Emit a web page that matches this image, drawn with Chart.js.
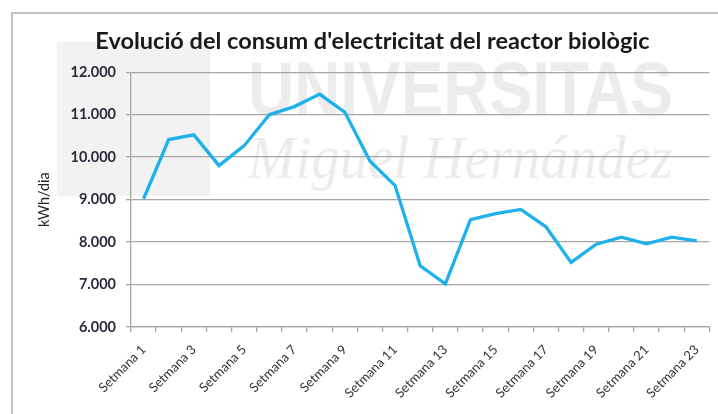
<!DOCTYPE html>
<html><head><meta charset="utf-8">
<script src="https://cdn.jsdelivr.net/npm/chart.js@4.4.1/dist/chart.umd.min.js"></script>
<style>html,body{margin:0;padding:0;background:#fff;overflow:hidden}</style>
</head><body>
<canvas id="c" width="718" height="414" style="display:block;width:718px;height:414px"></canvas>
<script>
const categories = ["Setmana 1","Setmana 2","Setmana 3","Setmana 4","Setmana 5","Setmana 6","Setmana 7","Setmana 8","Setmana 9","Setmana 10","Setmana 11","Setmana 12","Setmana 13","Setmana 14","Setmana 15","Setmana 16","Setmana 17","Setmana 18","Setmana 19","Setmana 20","Setmana 21","Setmana 22","Setmana 23"];
const consum = [9020,10415,10525,9800,10270,11000,11190,11485,11060,9910,9330,7440,7015,8530,8670,8770,8360,7520,7950,8115,7960,8115,8030];
const yMin = 6000, yMax = 12000, yStep = 1000;
const titleText = "Evolució del consum d'electricitat del reactor biològic";
const yTitle = "kWh/dia";
const watermark1 = "UNIVERSITAS";
const watermark2 = "Miguel Hernández";

function fmt(v){ return String(v).replace(/\B(?=(\d{3})+(?!\d))/g,'.'); }

const backdrop = {
  id:'backdrop',
  beforeDraw(chart){
    const ctx = chart.ctx;
    ctx.save();
    ctx.fillStyle='#fff'; ctx.fillRect(0,0,chart.width,chart.height);
    ctx.fillStyle='#f2f2f2';
    ctx.fillRect(57,42,153,154);
    ctx.fillStyle='#ececec';
    ctx.font='bold 76px "Liberation Sans"';
    ctx.textBaseline='alphabetic';
    let w = ctx.measureText(watermark1).width;
    ctx.save(); ctx.translate(248,115); ctx.scale(425/w,1); ctx.fillText(watermark1,0,0); ctx.restore();
    ctx.font='italic 62px "Liberation Serif"';
    w = ctx.measureText(watermark2).width;
    ctx.save(); ctx.translate(248,178); ctx.scale(425/w,1); ctx.fillText(watermark2,0,0); ctx.restore();
    ctx.strokeStyle='#c4c4c4'; ctx.lineWidth=2;
    ctx.strokeRect(12,13,760,460);
    ctx.restore();
  }
};

new Chart(document.getElementById('c'),{
  type:'line',
  data:{labels:categories,datasets:[{data:consum,borderColor:'#1fb1ea',borderWidth:3.3,pointRadius:0,tension:0,fill:false}]},
  plugins:[backdrop],
  options:{
    responsive:false,animation:false,devicePixelRatio:1,
    layout:{padding:{left:34,right:7,top:0,bottom:0}},
    plugins:{
      legend:{display:false},tooltip:{enabled:false},
      title:{display:true,text:titleText,color:'#1a1a1a',font:{family:'Lato',size:23.5,weight:'bold'},padding:{top:27,bottom:17}}
    },
    scales:{
      x:{
        offset:true,
        grid:{offset:true,drawOnChartArea:false,drawTicks:true,tickLength:5,color:'#a6a6a6',lineWidth:1.3},
        border:{display:true,color:'#a6a6a6',width:1.3},
        ticks:{autoSkip:false,maxRotation:45,minRotation:45,padding:10,color:'#333',font:{family:'Lato',size:13},
          callback:function(v,i){return i%2===0?this.getLabelForValue(v):'';}},
        afterFit(s){s.height=87;}
      },
      y:{
        min:yMin,max:yMax,
        ticks:{stepSize:yStep,padding:10,color:'#2a2a3a',font:{family:'Lato',size:14.5,weight:'bold'},callback:v=>fmt(v)},
        grid:{color:'#a6a6a6',lineWidth:1.3,tickLength:5},
        border:{display:true,color:'#a6a6a6',width:1.3},
        title:{display:true,text:yTitle,color:'#222',font:{family:'Lato',size:14.5},padding:{top:2,bottom:0}},
        afterFit(s){s.width=97;}
      }
    }
  }
});
</script>
</body></html>
